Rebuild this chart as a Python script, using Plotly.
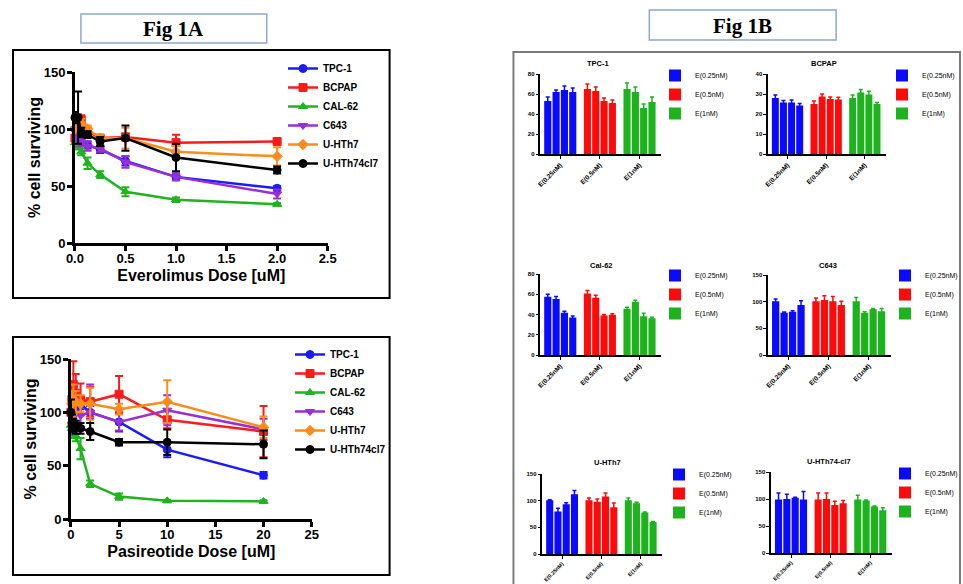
import plotly.graph_objects as go

W, H = 963, 584

# ---------------- Fig 1A data ----------------
LINE_NAMES = ["TPC-1", "BCPAP", "CAL-62", "C643", "U-HTh7", "U-HTh74cl7"]
LINE_COLORS = ["#1a1aff", "#ff1a1a", "#1fb41f", "#9a2fd6", "#ff8c1a", "#000000"]
LINE_SYMBOLS = ["circle", "square", "triangle-up", "triangle-down", "diamond", "circle"]

EVE_DOSE = [0, 0.03125, 0.0625, 0.125, 0.25, 0.5, 1, 2]
EVE_TPC1 = [100, 95, 90, 86, 82, 72, 58, 48]
EVE_TPC1_ERR = [3, 3, 3, 3, 3, 4, 3, 2]
EVE_BCPAP = [92, 108, 108, 98, 92, 93, 88, 89]
EVE_BCPAP_ERR = [5, 5, 4, 3, 2, 3, 7, 2]
EVE_CAL62 = [88, 85, 80, 70, 60, 45, 38, 34]
EVE_CAL62_ERR = [4, 3, 3, 5, 3, 4, 2, 1]
EVE_C643 = [100, 92, 88, 85, 83, 71, 58, 43]
EVE_C643_ERR = [3, 3, 3, 4, 3, 5, 3, 4]
EVE_UHTH7 = [100, 103, 105, 100, 92, 92, 80, 76]
EVE_UHTH7_ERR = [3, 3, 4, 3, 3, 9, 5, 8]
EVE_UHTH74 = [110, 110, 97, 95, 89, 92, 75, 64]
EVE_UHTH74_ERR = [5, 23, 4, 3, 4, 11, 12, 3]

PAS_DOSE = [0, 0.1, 0.25, 0.5, 1, 2, 5, 10, 20]
PAS_TPC1 = [100, 115, 112, 110, 108, 100, 91, 65, 41]
PAS_TPC1_ERR = [15, 5, 8, 6, 5, 6, 9, 7, 3]
PAS_BCPAP = [100, 110, 126, 118, 112, 110, 117, 93, 82]
PAS_BCPAP_ERR = [10, 10, 22, 18, 15, 14, 17, 8, 24]
PAS_CAL62 = [88, 85, 82, 78, 66, 33, 21, 17, 16.5]
PAS_CAL62_ERR = [10, 8, 6, 5, 10, 3, 3, 1, 1]
PAS_C643 = [100, 95, 90, 100, 97, 100, 91, 102, 84]
PAS_C643_ERR = [15, 12, 10, 12, 10, 26, 8, 14, 10]
PAS_UHTH7 = [100, 108, 112, 110, 108, 108, 103, 110, 86]
PAS_UHTH7_ERR = [10, 12, 14, 10, 8, 15, 5, 20, 10]
PAS_UHTH74 = [100, 90, 88, 86, 85, 82, 72, 72, 70]
PAS_UHTH74_ERR = [12, 8, 6, 6, 5, 8, 3, 12, 13]

# ---------------- Fig 1B data ----------------
BAR_CATS = ["E(0.25nM)", "E(0.5nM)", "E(1nM)"]
BAR_COLORS = ["#0a0aff", "#ff0a0a", "#1db31d"]

TPC1_VALUES = [[53, 62, 64, 62], [65, 63, 53, 51], [65, 62, 46, 52]]
TPC1_ERR = [[4, 2, 4, 4], [5, 4, 3, 3], [6, 5, 4, 5]]
BCPAP_VALUES = [[28, 25.8, 25.8, 24.3], [25, 28.8, 27.5, 27.2], [28, 30.8, 29.7, 25]]
BCPAP_ERR = [[1.5, 1, 1.2, 1], [1.5, 1.2, 1, 1.2], [1.5, 1.5, 1.7, 0.8]]
CAL62_VALUES = [[57.5, 55.2, 41.7, 37], [60.8, 56.5, 39, 39.7], [45.6, 52.6, 38.3, 36.4]]
CAL62_ERR = [[2.5, 2.5, 1.5, 1.5], [3, 2.5, 1, 1], [1.5, 1.5, 3, 1]]
C643_VALUES = [[101, 79.4, 81, 93.7], [101, 103, 100.6, 93.7], [101, 79, 86, 82]]
C643_ERR = [[4, 1, 2, 8], [6, 8, 9, 7], [7, 2, 1, 5]]
UHTH7_VALUES = [[100.8, 79.6, 93.3, 112], [101, 98, 107.6, 87.7], [101, 95, 77.8, 60]]
UHTH7_ERR = [[1, 6, 3, 7], [4, 5, 7, 8], [4, 2, 1, 1]]
UHTH74_VALUES = [[99, 100, 102.4, 99], [99, 100, 89, 92], [99, 97, 86, 79]]
UHTH74_ERR = [[12, 9, 1, 15], [12, 11, 7, 5], [8, 1, 1, 5]]

SANS = "Liberation Sans, Arial, sans-serif"
SERIF = "Liberation Serif, Times New Roman, serif"


def xd(a, b):
    return [a / W, b / W]


def yd(top, bottom):
    return [1 - bottom / H, 1 - top / H]


def px(x):
    return x / W


def py(y):
    return 1 - y / H


fig = go.Figure()
layout = dict(
    width=W, height=H, margin=dict(l=0, r=0, t=0, b=0),
    paper_bgcolor="white", plot_bgcolor="white", template="none",
    barmode="overlay", font=dict(family=SANS, color="black"),
)


def add_line_chart(k, doses, series, errs, xdom, ydom, xrange, xdtick, xfmt, xtitle, leg_x, leg_top):
    sfx = "" if k == 1 else str(k)
    leg = "legend" + sfx
    for name, vals, err, col, sym in zip(LINE_NAMES, series, errs, LINE_COLORS, LINE_SYMBOLS):
        fig.add_trace(go.Scatter(
            x=doses, y=vals, name=name, mode="lines+markers",
            line=dict(color=col, width=2.5),
            marker=dict(symbol=sym, size=8, color=col, line=dict(color=col, width=1)),
            error_y=dict(type="data", array=err, color=col, thickness=2, width=4),
            xaxis="x" + sfx, yaxis="y" + sfx, legend=leg, cliponaxis=False,
        ))
    layout["xaxis" + sfx] = dict(
        domain=xdom, range=xrange, dtick=xdtick, tick0=0, tickformat=xfmt,
        showline=True, linecolor="black", linewidth=2.5, ticks="outside",
        ticklen=5, tickwidth=2.5, tickcolor="black", showgrid=False, zeroline=False,
        anchor="y" + sfx, ticklabelstandoff=-3,
        tickfont=dict(family=SANS, size=13, weight="bold", color="black"),
        title=dict(text=xtitle, standoff=5, font=dict(family=SANS, size=16, weight="bold", color="black")),
    )
    layout["yaxis" + sfx] = dict(
        domain=ydom, range=[0, 150], dtick=50, tick0=0,
        showline=True, linecolor="black", linewidth=2.5, ticks="outside",
        ticklen=5, tickwidth=2.5, tickcolor="black", showgrid=False, zeroline=False,
        anchor="x" + sfx, ticklabelstandoff=-1,
        tickfont=dict(family=SANS, size=13, weight="bold", color="black"),
        title=dict(text="% cell surviving", standoff=0, font=dict(family=SANS, size=16, weight="bold", color="black")),
    )
    layout[leg] = dict(
        x=px(leg_x), y=py(leg_top), xanchor="left", yanchor="top",
        bgcolor="rgba(0,0,0,0)", borderwidth=0, tracegroupgap=0, itemwidth=30,
        font=dict(family=SANS, size=10, weight="bold", color="black"),
    )


add_line_chart(
    1, EVE_DOSE,
    [EVE_TPC1, EVE_BCPAP, EVE_CAL62, EVE_C643, EVE_UHTH7, EVE_UHTH74],
    [EVE_TPC1_ERR, EVE_BCPAP_ERR, EVE_CAL62_ERR, EVE_C643_ERR, EVE_UHTH7_ERR, EVE_UHTH74_ERR],
    xd(75, 328), yd(72, 243), [0, 2.5], 0.5, ".1f", "Everolimus Dose [uM]", 283, 54,
)
add_line_chart(
    2, PAS_DOSE,
    [PAS_TPC1, PAS_BCPAP, PAS_CAL62, PAS_C643, PAS_UHTH7, PAS_UHTH74],
    [PAS_TPC1_ERR, PAS_BCPAP_ERR, PAS_CAL62_ERR, PAS_C643_ERR, PAS_UHTH7_ERR, PAS_UHTH74_ERR],
    xd(71, 312), yd(359, 519), [0, 25], 5, "d", "Pasireotide Dose [uM]", 290, 340,
)

BAR_PANELS = [
    # title, values, errors, x-domain px, y-domain px, ymax, dtick, title pos, legend pos, x-tick font
    ("TPC-1", TPC1_VALUES, TPC1_ERR, (541, 662), (74, 154), 80, 20, (599, 63), (655, 61), 6.5),
    ("BCPAP", BCPAP_VALUES, BCPAP_ERR, (769, 887), (74, 154), 40, 10, (825, 63), (882, 61), 6.5),
    ("Cal-62", CAL62_VALUES, CAL62_ERR, (541, 662), (274, 355), 80, 20, (602, 266), (655, 261), 6.5),
    ("C643", C643_VALUES, C643_ERR, (769, 892), (275, 355), 150, 50, (829, 266), (886, 261), 6.5),
    ("U-HTh7", UHTH7_VALUES, UHTH7_ERR, (543, 663), (474, 554), 150, 50, (608, 462), (659, 460), 5.3),
    ("U-HTh74-cl7", UHTH74_VALUES, UHTH74_ERR, (772, 893), (472, 553), 150, 50, (830, 461), (886, 459), 5.3),
]

BAR_STEP = 0.21
BAR_WIDTH = 0.18

annotations = []
for j, (title, values, errs, xdp, ydp, ymax, dt, tpos, lpos, xfs) in enumerate(BAR_PANELS):
    k = j + 3
    sfx = str(k)
    leg = "legend" + sfx
    for c, (cat, col) in enumerate(zip(BAR_CATS, BAR_COLORS)):
        pos = [c + (i - 1.5) * BAR_STEP for i in range(len(values[c]))]
        fig.add_trace(go.Bar(
            x=pos, y=values[c], name=cat, width=BAR_WIDTH,
            marker=dict(color=col, line=dict(width=0)),
            error_y=dict(type="data", array=errs[c], color=col, thickness=1.5, width=2),
            xaxis="x" + sfx, yaxis="y" + sfx, legend=leg,
        ))
    layout["xaxis" + sfx] = dict(
        domain=xd(*xdp), range=[-0.5, 2.55], tickvals=[0, 1, 2], ticktext=BAR_CATS,
        tickangle=-45, showline=True, linecolor="black", linewidth=1.5,
        ticks="outside", ticklen=3, tickwidth=1.2, tickcolor="black",
        showgrid=False, zeroline=False, anchor="y" + sfx,
        tickfont=dict(family=SANS, size=xfs, weight="bold", color="black"),
    )
    layout["yaxis" + sfx] = dict(
        domain=yd(*ydp), range=[0, ymax], dtick=dt, tick0=0,
        showline=True, linecolor="black", linewidth=1.5,
        ticks="outside", ticklen=3, tickwidth=1.2, tickcolor="black",
        showgrid=False, zeroline=False, anchor="x" + sfx,
        tickfont=dict(family=SANS, size=6, weight="bold", color="black"),
    )
    layout[leg] = dict(
        x=px(lpos[0]), y=py(lpos[1]), xanchor="left", yanchor="top",
        bgcolor="rgba(0,0,0,0)", borderwidth=0, tracegroupgap=0, itemwidth=30,
        font=dict(family=SANS, size=7, color="black"),
    )
    annotations.append(dict(
        text=title, x=px(tpos[0]), y=py(tpos[1]), xref="paper", yref="paper",
        showarrow=False, xanchor="center", yanchor="middle",
        font=dict(family=SANS, size=7.5, weight="bold", color="black"),
    ))

annotations.append(dict(text="Fig 1A", x=px(174), y=py(29), xref="paper", yref="paper",
                        showarrow=False, xanchor="center", yanchor="middle",
                        font=dict(family=SERIF, size=21, weight="bold", color="black")))
annotations.append(dict(text="Fig 1B", x=px(743), y=py(26), xref="paper", yref="paper",
                        showarrow=False, xanchor="center", yanchor="middle",
                        font=dict(family=SERIF, size=21, weight="bold", color="black")))


def rect(x0, y0, x1, y1, color, width):
    return dict(type="rect", xref="paper", yref="paper",
                x0=px(x0), x1=px(x1), y0=py(y1), y1=py(y0),
                line=dict(color=color, width=width), fillcolor="rgba(0,0,0,0)", layer="below")


shapes = [
    rect(81, 14, 267, 43, "#8ea8cc", 1.5),
    rect(650, 10, 837, 40, "#8ea8cc", 1.5),
    rect(13, 50, 390, 298, "black", 2),
    rect(13, 337, 390, 575, "black", 2),
    rect(514, 52, 961, 600, "#7a7a7a", 2),
]

layout["annotations"] = annotations
layout["shapes"] = shapes
fig.update_layout(**layout)
fig.write_html(
    "out.html",
    config={"displayModeBar": False},
    post_script="document.body.style.margin='0';document.body.style.padding='0';document.body.style.overflow='hidden';",
)
